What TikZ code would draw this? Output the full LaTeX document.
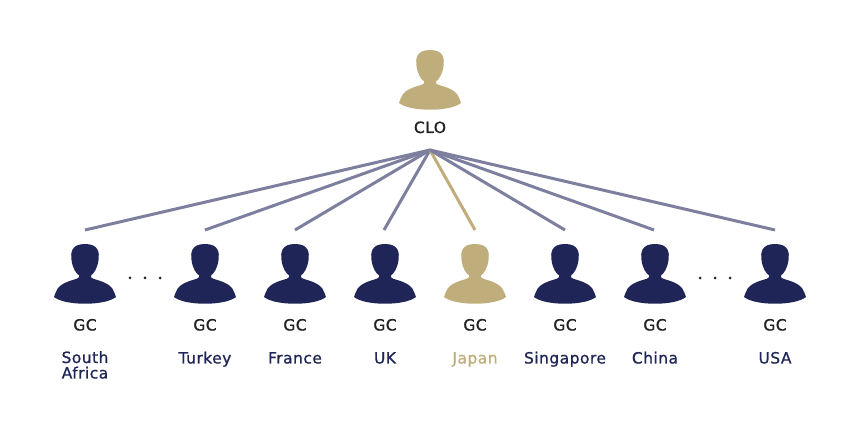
\documentclass[tikz,border=0pt]{standalone}
\usepackage{fontspec}
\setmainfont{DejaVu Sans}[LetterSpace=3, FakeBold=0.9]
\definecolor{navy}{HTML}{1F2557}
\definecolor{gold}{HTML}{BFAE7C}
\definecolor{linegray}{HTML}{7D7F9F}
\definecolor{ink}{HTML}{222222}
\begin{document}
\begin{tikzpicture}[x=1pt,y=-1pt]
\tikzset{person/.pic={
  \fill (0,0) .. controls (14,0) and (14.5,9) .. (13.5,16) .. controls (12.5,24) and (9,30) .. (5,32)
    -- (-5,32) .. controls (-9,30) and (-12.5,24) .. (-13.5,16) .. controls (-14.5,9) and (-14,0) .. (0,0);
  \fill (-6,28) -- (6,28) -- (6,33) .. controls (7,36) and (20,36) .. (27,44)
    .. controls (29,47) and (30,50) .. (31,53)
    .. controls (20,62) and (-20,62) .. (-31,53)
    .. controls (-30,50) and (-29,47) .. (-27,44) .. controls (-20,36) and (-7,36) .. (-6,33) -- cycle;
}}
\tikzset{every node/.style={font=\fontsize{15.5}{15.5}\selectfont, inner sep=0pt}}
\tikzset{gctext/.style={anchor=base, text=ink}}
\tikzset{country/.style={anchor=base, text=navy, align=center}}
\tikzset{link/.style={draw=linegray, line width=3pt}}
\useasboundingbox[fill=white] (0,0) rectangle (860,430);
\pic[fill=gold] at (430,50) {person};
\node[gctext] (clo) at (430,133) {CLO};
\coordinate (hub) at (430,150);
\coordinate (tsa) at (85,230);
\coordinate (ttr) at (205,230);
\coordinate (tfr) at (295,230);
\coordinate (tuk) at (384,230);
\coordinate (tjp) at (475,230);
\coordinate (tsg) at (565,230);
\coordinate (tcn) at (654,230);
\coordinate (tus) at (775,230);
\draw[link] (hub) -- (tsa);
\draw[link] (hub) -- (ttr);
\draw[link] (hub) -- (tfr);
\draw[link] (hub) -- (tuk);
\draw[link, draw=gold] (hub) -- (tjp);
\draw[link] (hub) -- (tsg);
\draw[link] (hub) -- (tcn);
\draw[link] (hub) -- (tus);
\pic[fill=navy] at (85,244) {person};
\pic[fill=navy] at (205,244) {person};
\pic[fill=navy] at (295,244) {person};
\pic[fill=navy] at (385,244) {person};
\pic[fill=gold] at (475,244) {person};
\pic[fill=navy] at (565,244) {person};
\pic[fill=navy] at (655,244) {person};
\pic[fill=navy] at (775,244) {person};
\fill[ink] (130,278) circle (1.5pt) (145,278) circle (1.5pt) (160,278) circle (1.5pt);
\fill[ink] (700,278) circle (1.5pt) (715,278) circle (1.5pt) (730,278) circle (1.5pt);
\node[gctext] (gcsa) at (85,330.5) {GC};
\node[gctext] (gctr) at (205,330.5) {GC};
\node[gctext] (gcfr) at (295,330.5) {GC};
\node[gctext] (gcuk) at (385,330.5) {GC};
\node[gctext] (gcjp) at (475,330.5) {GC};
\node[gctext] (gcsg) at (565,330.5) {GC};
\node[gctext] (gccn) at (655,330.5) {GC};
\node[gctext] (gcus) at (775,330.5) {GC};
\node[country] (sa) at (85,378.5) {South\\Africa};
\node[country] (tr) at (205,363.5) {Turkey};
\node[country] (fr) at (295,363.5) {France};
\node[country] (uk) at (385,363.5) {UK};
\node[country, text=gold] (jp) at (475,363.5) {Japan};
\node[country] (sg) at (565,363.5) {Singapore};
\node[country] (cn) at (655,363.5) {China};
\node[country] (us) at (775,363.5) {USA};
\end{tikzpicture}
\end{document}
